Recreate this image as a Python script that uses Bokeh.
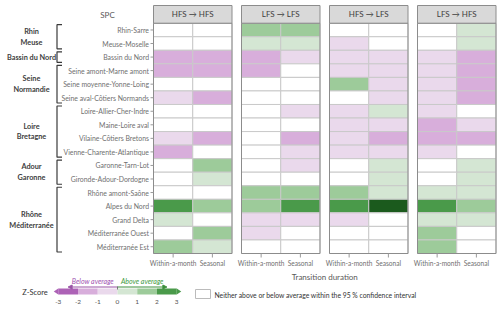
import numpy as np
from bokeh.plotting import figure
from bokeh.models import Range1d, ColumnDataSource, LinearColorMapper, Arrow, NormalHead
from bokeh.core.properties import value
from bokeh.embed import file_html
from bokeh.resources import INLINE

# ---------------- data ----------------
rows = ["Rhin-Sarre", "Meuse-Moselle", "Bassin du Nord", "Seine amont-Marne amont",
        "Seine moyenne-Yonne-Loing", "Seine aval-Côtiers Normands", "Loire-Allier-Cher-Indre",
        "Maine-Loire aval", "Vilaine-Côtiers Bretons", "Vienne-Charente-Atlantique",
        "Garonne-Tarn-Lot", "Gironde-Adour-Dordogne", "Rhône amont-Saône", "Alpes du Nord",
        "Grand Delta", "Méditerranée Ouest", "Méditerranée Est"]
groups = ["Rhin\nMeuse", "Bassin du Nord", "Seine\nNormandie", "Loire\nBretagne",
          "Adour\nGaronne", "Rhône\nMéditerranée"]
group_first = [0, 2, 3, 6, 10, 12]
group_last = [1, 2, 5, 9, 11, 16]
panels = ["HFS → HFS", "LFS → LFS", "HFS → LFS", "LFS → HFS"]
durations = ["Within-a-month", "Seasonal"]

N = np.nan  # not significant (within 95 % CI)
# representative z-scores
hfs_hfs_within   = [N, N, -1.5, -1.5, N, -0.5, N, N, -0.5, -1.5, N, N, N, 2.5, 0.5, N, 1.5]
hfs_hfs_seasonal = [N, N, -1.5, -1.5, N, -1.5, N, N, -1.5, N, 1.5, 0.5, N, 1.5, N, 1.5, 0.5]
lfs_lfs_within   = [1.5, 0.5, -1.5, -1.5, N, N, N, N, N, N, N, N, 1.5, 1.5, -0.5, -0.5, N]
lfs_lfs_seasonal = [1.5, 0.5, -0.5, N, N, N, -0.5, N, -1.5, -0.5, -0.5, N, 1.5, 2.5, -0.5, N, N]
hfs_lfs_within   = [N, -0.5, -0.5, -0.5, 1.5, N, -0.5, -0.5, -0.5, -0.5, N, N, 1.5, 2.5, -0.5, N, N]
hfs_lfs_seasonal = [N, N, -0.5, -0.5, -0.5, -0.5, 0.5, -0.5, -1.5, -0.5, 0.5, 0.5, 0.5, 3.5, N, N, N]
lfs_hfs_within   = [N, N, -0.5, -0.5, -0.5, -0.5, -0.5, -1.5, -1.5, -0.5, N, N, 0.5, 2.5, 0.5, 1.5, 1.5]
lfs_hfs_seasonal = [0.5, 0.5, -1.5, -1.5, -1.5, -1.5, N, -0.5, -1.5, N, 0.5, 0.5, 0.5, 1.5, 0.5, N, N]
panel_values = [[hfs_hfs_within, hfs_hfs_seasonal], [lfs_lfs_within, lfs_lfs_seasonal],
                [hfs_lfs_within, hfs_lfs_seasonal], [lfs_hfs_within, lfs_hfs_seasonal]]

z_ticks = [-3, -2, -1, 0, 1, 2, 3]
palette = ["#ad62b6", "#d8aedb", "#ead9ec", "#d4e6d3", "#9dcb9a", "#4a9a4a"]
darkest = "#1b5a1d"

# ---------------- layout constants (pixels) ----------------
PX0, PSTEP, PW = 153.0, 88.0, 78.5
COLW = PW / 2
HEAD_TOP, ROW_Y0, ROW_Y1 = 5.0, 22.7, 253.0
ROWH = (ROW_Y1 - ROW_Y0) / len(rows)

FONT = value("Lato")

p = figure(width=500, height=310, x_range=Range1d(0, 500), y_range=Range1d(310, 0),
           output_backend="svg", toolbar_location=None, min_border=0)
p.axis.visible = False
p.grid.visible = False
p.outline_line_color = None
p.background_fill_color = "white"
p.border_fill_color = "white"

mapper = LinearColorMapper(palette=palette, low=-3, high=3, low_color=palette[0],
                           high_color=darkest, nan_color="white")

def row_y(r):
    return ROW_Y0 + (r + 0.5) * ROWH

# cells
cx, cy, cz = [], [], []
for k, pv in enumerate(panel_values):
    for c, col in enumerate(pv):
        for r, z in enumerate(col):
            cx.append(PX0 + k * PSTEP + (c + 0.5) * COLW)
            cy.append(row_y(r))
            cz.append(z)
src = ColumnDataSource(dict(x=cx, y=cy, z=cz))
p.rect(x="x", y="y", width=COLW, height=ROWH, source=src,
       fill_color={"field": "z", "transform": mapper}, line_color="#c9c9c9", line_width=1)

# panel outlines and headers
pcx = [PX0 + k * PSTEP + PW / 2 for k in range(len(panels))]
p.rect(x=pcx, y=(ROW_Y0 + ROW_Y1) / 2, width=PW, height=ROW_Y1 - ROW_Y0,
       fill_color=None, line_color="#8c8c8c", line_width=1)
p.rect(x=pcx, y=(HEAD_TOP + ROW_Y0) / 2, width=PW, height=ROW_Y0 - HEAD_TOP,
       fill_color="#d9d9d9", line_color="#8c8c8c", line_width=1)
p.text(x=pcx, y=(HEAD_TOP + ROW_Y0) / 2, text=panels, text_align="center",
       text_baseline="middle", text_font=FONT, text_font_size="8px", text_color="#404040")

# row labels and ticks
ry = [row_y(r) for r in range(len(rows))]
p.text(x=148.5, y=ry, text=rows, text_align="right", text_baseline="middle",
       text_font=FONT, text_font_size="6.9px", text_color="#707070")
p.segment(x0=150, y0=ry, x1=PX0, y1=ry, line_color="#9a9a9a", line_width=1)
p.text(x=107, y=14, text=["SPC"], text_align="center", text_baseline="middle",
       text_font=FONT, text_font_size="8px", text_color="#595959")

# group labels and brackets
gy = [(row_y(a) + row_y(b)) / 2 for a, b in zip(group_first, group_last)]
p.text(x=31, y=gy, text=groups, text_align="center", text_baseline="middle",
       text_font=FONT, text_font_size="7.3px", text_font_style="bold",
       text_color="#404040", text_line_height=1.2)
bxs, bys = [], []
for a, b in zip(group_first, group_last):
    t = ROW_Y0 + a * ROWH + 1.5
    bt = ROW_Y0 + (b + 1) * ROWH - 1.5
    bxs.append([61.5, 56.5, 56.5, 61.5])
    bys.append([t, t, bt, bt])
p.multi_line(xs=bxs, ys=bys, line_color="#3a3a3a", line_width=1.2)

# x ticks and labels
tx, tl = [], []
for k in range(len(panels)):
    for c, d in enumerate(durations):
        tx.append(PX0 + k * PSTEP + (c + 0.5) * COLW)
        tl.append(d)
p.segment(x0=tx, y0=ROW_Y1, x1=tx, y1=ROW_Y1 + 4, line_color="#9a9a9a", line_width=1)
p.text(x=tx, y=262, text=tl, text_align="center", text_baseline="middle",
       text_font=FONT, text_font_size="6.6px", text_color="#707070")
p.text(x=PX0 + (3 * PSTEP + PW) / 2, y=276, text=["Transition duration"],
       text_align="center", text_baseline="middle", text_font=FONT,
       text_font_size="8px", text_color="#595959")

# ---------------- legend ----------------
Z0, ZU, ZY = 117.0, 19.75, 291.0
bin_lo = z_ticks[:-1]
p.rect(x=[Z0 + (z + 0.5) * ZU for z in bin_lo], y=ZY, width=ZU, height=6,
       fill_color=palette, line_color=None)
p.patches(xs=[[Z0 - 3 * ZU, Z0 - 3 * ZU - 4.5, Z0 - 3 * ZU],
              [Z0 + 3 * ZU, Z0 + 3 * ZU + 4.5, Z0 + 3 * ZU]],
          ys=[[ZY - 3, ZY, ZY + 3], [ZY - 3, ZY, ZY + 3]],
          fill_color=[palette[0], palette[-1]], line_color=None)
p.text(x=[Z0 + z * ZU for z in z_ticks], y=301, text=[str(z) for z in z_ticks],
       text_align="center", text_baseline="middle", text_font=FONT,
       text_font_size="6.5px", text_color="#555555")
p.text(x=34.5, y=ZY + 0.5, text=["Z-Score"], text_align="center", text_baseline="middle",
       text_font=FONT, text_font_size="7.5px", text_color="#333333")
p.segment(x0=Z0, y0=ZY - 5, x1=Z0, y1=ZY - 2, line_color="#777777", line_width=1)
p.add_layout(Arrow(end=NormalHead(size=4, fill_color="#9a55a6", line_color="#9a55a6"),
                   x_start=Z0, y_start=ZY - 4.5, x_end=Z0 - 2.5 * ZU, y_end=ZY - 4.5,
                   line_color="#9a55a6", line_width=1))
p.add_layout(Arrow(end=NormalHead(size=4, fill_color="#3c8f3c", line_color="#3c8f3c"),
                   x_start=Z0, y_start=ZY - 4.5, x_end=Z0 + 2.5 * ZU, y_end=ZY - 4.5,
                   line_color="#3c8f3c", line_width=1))
p.text(x=[Z0 - 1.25 * ZU, Z0 + 1.25 * ZU], y=280.5, text=["Below average", "Above average"],
       text_align="center", text_baseline="middle", text_font=FONT, text_font_size="7px",
       text_font_style="italic", text_color=["#a052b0", "#3d9a3d"])
p.rect(x=202.5, y=293.5, width=15, height=9, fill_color="white", line_color="#bbbbbb")
p.text(x=214, y=294, text=["Neither above or below average within the 95 % confidence interval"],
       text_align="left", text_baseline="middle", text_font=FONT, text_font_size="6.8px",
       text_color="#333333")

open("out.html", "w").write(file_html(p, INLINE))
